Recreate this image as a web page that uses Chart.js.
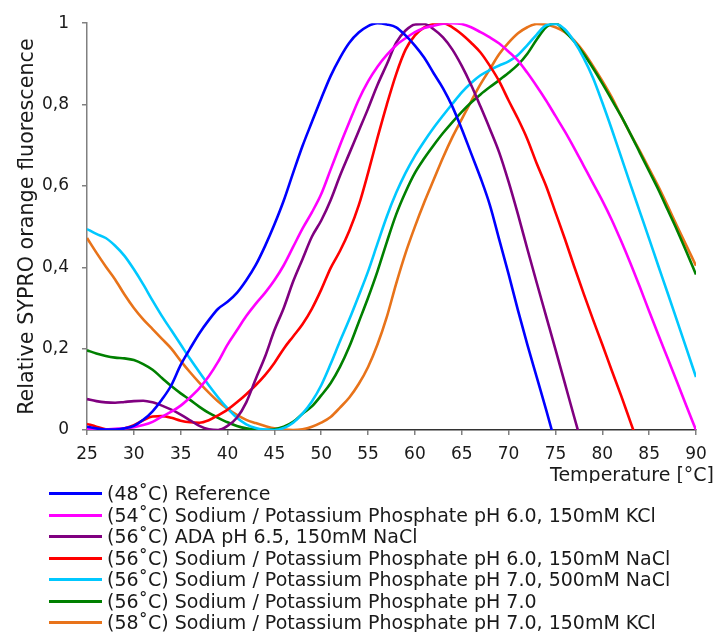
<!DOCTYPE html>
<html>
<head>
<meta charset="utf-8">
<script src="https://cdn.jsdelivr.net/npm/chart.js@4.4.1/dist/chart.umd.min.js"></script>
<style>
  html, body { margin: 0; padding: 0; background: #fff; }
  #wrap { position: relative; width: 718px; height: 632px; overflow: hidden; }
  #c { position: absolute; left: 0; top: 0; }
  #legend { position: absolute; left: 0; top: 483px; width: 718px; background: #fff;
            font-family: "DejaVu Sans", Verdana, sans-serif; font-size: 19px; color: #1a1a1a; }
  .row { display: flex; align-items: center; height: 21.5px; white-space: nowrap; }
  .sw { margin-left: 49px; width: 53px; height: 3px; }
  .tx { margin-left: 5px; line-height: 21.5px; }
</style>
</head>
<body>
<div id="wrap">
  <canvas id="c" width="718" height="632"></canvas>
  <div id="legend"></div>
</div>
<script>
// Temperature grid (°C)
const temps = [25,26,27,28,29,30,31,32,33,34,35,36,37,38,39,40,41,42,43,44,45,46,47,48,49,50,51,52,53,54,55,56,57,58,59,60,61,62,63,64,65,66,67,68,69,70,71,72,73,74,75,76,77,78,79,80,81,82,83,84,85,86,87,88,89,90];

const seriesLabels = [
  "(48\u02DAC) Reference",
  "(54\u02DAC) Sodium / Potassium Phosphate pH 6.0, 150mM KCl",
  "(56\u02DAC) ADA pH 6.5, 150mM NaCl",
  "(56\u02DAC) Sodium / Potassium Phosphate pH 6.0, 150mM NaCl",
  "(56\u02DAC) Sodium / Potassium Phosphate pH 7.0, 500mM NaCl",
  "(56\u02DAC) Sodium / Potassium Phosphate pH 7.0",
  "(58\u02DAC) Sodium / Potassium Phosphate pH 7.0, 150mM KCl"
];
const seriesColors = ["#0000FF", "#FF00FF", "#800080", "#FF0000", "#00C8FF", "#008000", "#E8731A"];

const reference = [0.008,0.004,0.001,0.001,0.004,0.01,0.025,0.046,0.075,0.11,0.16,0.2,0.238,0.27,0.298,0.315,0.337,0.368,0.405,0.452,0.505,0.564,0.632,0.698,0.757,0.815,0.87,0.915,0.952,0.977,0.993,1.0,0.997,0.99,0.97,0.945,0.915,0.877,0.84,0.795,0.74,0.68,0.62,0.553,0.468,0.383,0.294,0.21,0.13,0.05,-0.033,null,null,null,null,null,null,null,null,null,null,null,null,null,null,null];
const naKPh6KCl = [0.002,0.002,0.002,0.003,0.004,0.007,0.012,0.02,0.033,0.045,0.06,0.08,0.103,0.132,0.168,0.21,0.245,0.28,0.31,0.337,0.368,0.405,0.45,0.495,0.535,0.58,0.64,0.70,0.757,0.812,0.857,0.893,0.922,0.946,0.963,0.978,0.988,0.994,0.999,1.0,0.998,0.99,0.978,0.965,0.95,0.93,0.908,0.878,0.845,0.81,0.772,0.734,0.693,0.65,0.607,0.564,0.517,0.465,0.41,0.352,0.292,0.233,0.175,0.117,0.058,0.0];
const adaPh65NaCl = [0.076,0.071,0.068,0.067,0.069,0.071,0.072,0.068,0.06,0.05,0.038,0.024,0.01,0.002,0.0,0.01,0.03,0.068,0.125,0.18,0.245,0.3,0.365,0.42,0.475,0.515,0.565,0.625,0.68,0.735,0.79,0.848,0.899,0.952,0.982,0.997,0.998,0.985,0.965,0.935,0.895,0.848,0.795,0.74,0.682,0.61,0.53,0.445,0.362,0.28,0.198,0.115,0.032,-0.05,null,null,null,null,null,null,null,null,null,null,null,null];
const naKPh6NaCl = [0.015,0.008,0.002,0.0,0.004,0.012,0.024,0.033,0.034,0.03,0.023,0.019,0.018,0.024,0.036,0.05,0.068,0.088,0.11,0.135,0.165,0.2,0.23,0.26,0.298,0.345,0.398,0.44,0.49,0.552,0.632,0.718,0.8,0.875,0.935,0.97,0.99,0.998,1.0,0.99,0.973,0.952,0.928,0.895,0.857,0.81,0.765,0.715,0.655,0.6,0.535,0.47,0.402,0.336,0.272,0.21,0.147,0.085,0.02,-0.045,null,null,null,null,null,null];
const naKPh7NaCl500 = [0.494,0.482,0.472,0.453,0.428,0.395,0.358,0.318,0.28,0.245,0.21,0.175,0.142,0.11,0.08,0.053,0.03,0.014,0.005,0.001,0.0,0.005,0.018,0.04,0.07,0.11,0.162,0.218,0.272,0.33,0.39,0.458,0.525,0.583,0.632,0.674,0.71,0.743,0.773,0.802,0.83,0.853,0.872,0.885,0.896,0.906,0.922,0.946,0.972,0.995,0.998,0.985,0.955,0.915,0.866,0.805,0.74,0.672,0.604,0.537,0.47,0.402,0.335,0.267,0.199,0.13];
const naKPh7 = [0.196,0.188,0.182,0.178,0.176,0.172,0.162,0.148,0.128,0.108,0.09,0.074,0.057,0.042,0.03,0.019,0.01,0.004,0.001,0.0,0.002,0.008,0.02,0.04,0.058,0.085,0.115,0.155,0.205,0.265,0.325,0.39,0.462,0.53,0.585,0.632,0.668,0.7,0.73,0.757,0.782,0.805,0.825,0.843,0.86,0.878,0.898,0.925,0.96,0.99,1.0,0.98,0.955,0.925,0.89,0.852,0.812,0.772,0.728,0.682,0.636,0.59,0.54,0.49,0.437,0.382];
const naKPh7KCl = [0.472,0.436,0.402,0.37,0.333,0.3,0.272,0.248,0.224,0.2,0.17,0.142,0.116,0.092,0.07,0.052,0.037,0.025,0.017,0.01,0.004,0.001,0.0,0.002,0.008,0.018,0.032,0.055,0.08,0.113,0.155,0.21,0.278,0.36,0.435,0.5,0.56,0.615,0.67,0.72,0.764,0.808,0.85,0.887,0.924,0.952,0.975,0.99,0.998,0.997,0.99,0.978,0.958,0.93,0.895,0.858,0.818,0.772,0.728,0.686,0.642,0.598,0.55,0.5,0.452,0.404];

const seriesValues = [reference, naKPh6KCl, adaPh65NaCl, naKPh6NaCl, naKPh7NaCl500, naKPh7, naKPh7KCl];

const yTickLabels = ["0", "0,2", "0,4", "0,6", "0,8", "1"];
const xTitle = "Temperature [\u00B0C]";
const yTitle = "Relative SYPRO orange fluorescence";

const datasets = seriesValues.map((vals, i) => ({
  label: seriesLabels[i],
  data: temps.map((t, j) => ({ x: t, y: vals[j] })),
  borderColor: seriesColors[i],
  backgroundColor: seriesColors[i],
  borderWidth: 2.6,
  pointRadius: 0,
  cubicInterpolationMode: 'monotone',
  spanGaps: false,
  fill: false
}));

const htmlLegend = {
  id: 'htmlLegend',
  afterUpdate(chart) {
    const box = document.getElementById('legend');
    box.innerHTML = '';
    chart.data.datasets.forEach(ds => {
      const row = document.createElement('div');
      row.className = 'row';
      const sw = document.createElement('span');
      sw.className = 'sw';
      sw.style.background = ds.borderColor;
      const tx = document.createElement('span');
      tx.className = 'tx';
      tx.textContent = ds.label;
      row.appendChild(sw);
      row.appendChild(tx);
      box.appendChild(row);
    });
  }
};

const xTitlePlugin = {
  id: 'xTitlePlugin',
  afterDraw(chart) {
    const ctx = chart.ctx;
    ctx.save();
    ctx.font = '19px "DejaVu Sans", Verdana, sans-serif';
    ctx.fillStyle = '#1a1a1a';
    ctx.textAlign = 'right';
    ctx.textBaseline = 'alphabetic';
    ctx.fillText(xTitle, 714, 481);
    ctx.restore();
  }
};

new Chart(document.getElementById('c'), {
  type: 'line',
  data: { datasets },
  plugins: [htmlLegend, xTitlePlugin],
  options: {
    responsive: false,
    animation: false,
    devicePixelRatio: 1,
    layout: { padding: { top: 22, right: 22, left: 0, bottom: 0 } },
    plugins: { legend: { display: false }, tooltip: { enabled: false } },
    scales: {
      x: {
        type: 'linear',
        min: 25, max: 90,
        border: { display: true, color: '#333333', width: 1.5 },
        grid: { display: true, drawOnChartArea: false, drawTicks: true, tickLength: 5, color: '#808080', lineWidth: 1.5 },
        ticks: { stepSize: 5, padding: 9, color: '#1a1a1a', font: { family: '"DejaVu Sans", Verdana, sans-serif', size: 17 }, maxRotation: 0 },
        afterFit(scale) { scale.height = 202; }
      },
      y: {
        min: 0, max: 1,
        border: { display: true, color: '#808080', width: 1.5 },
        grid: { display: true, drawOnChartArea: false, drawTicks: true, tickLength: 5, color: '#808080', lineWidth: 1.5 },
        ticks: {
          stepSize: 0.2, padding: 13, color: '#1a1a1a',
          font: { family: '"DejaVu Sans", Verdana, sans-serif', size: 17 },
          callback: (v, i) => yTickLabels[i]
        },
        title: { display: true, text: yTitle, color: '#1a1a1a', padding: { top: 15, bottom: 0 },
                 font: { family: '"DejaVu Sans", Verdana, sans-serif', size: 20.7 } },
        afterFit(scale) { scale.width = 87; }
      }
    }
  }
});
</script>
</body>
</html>
